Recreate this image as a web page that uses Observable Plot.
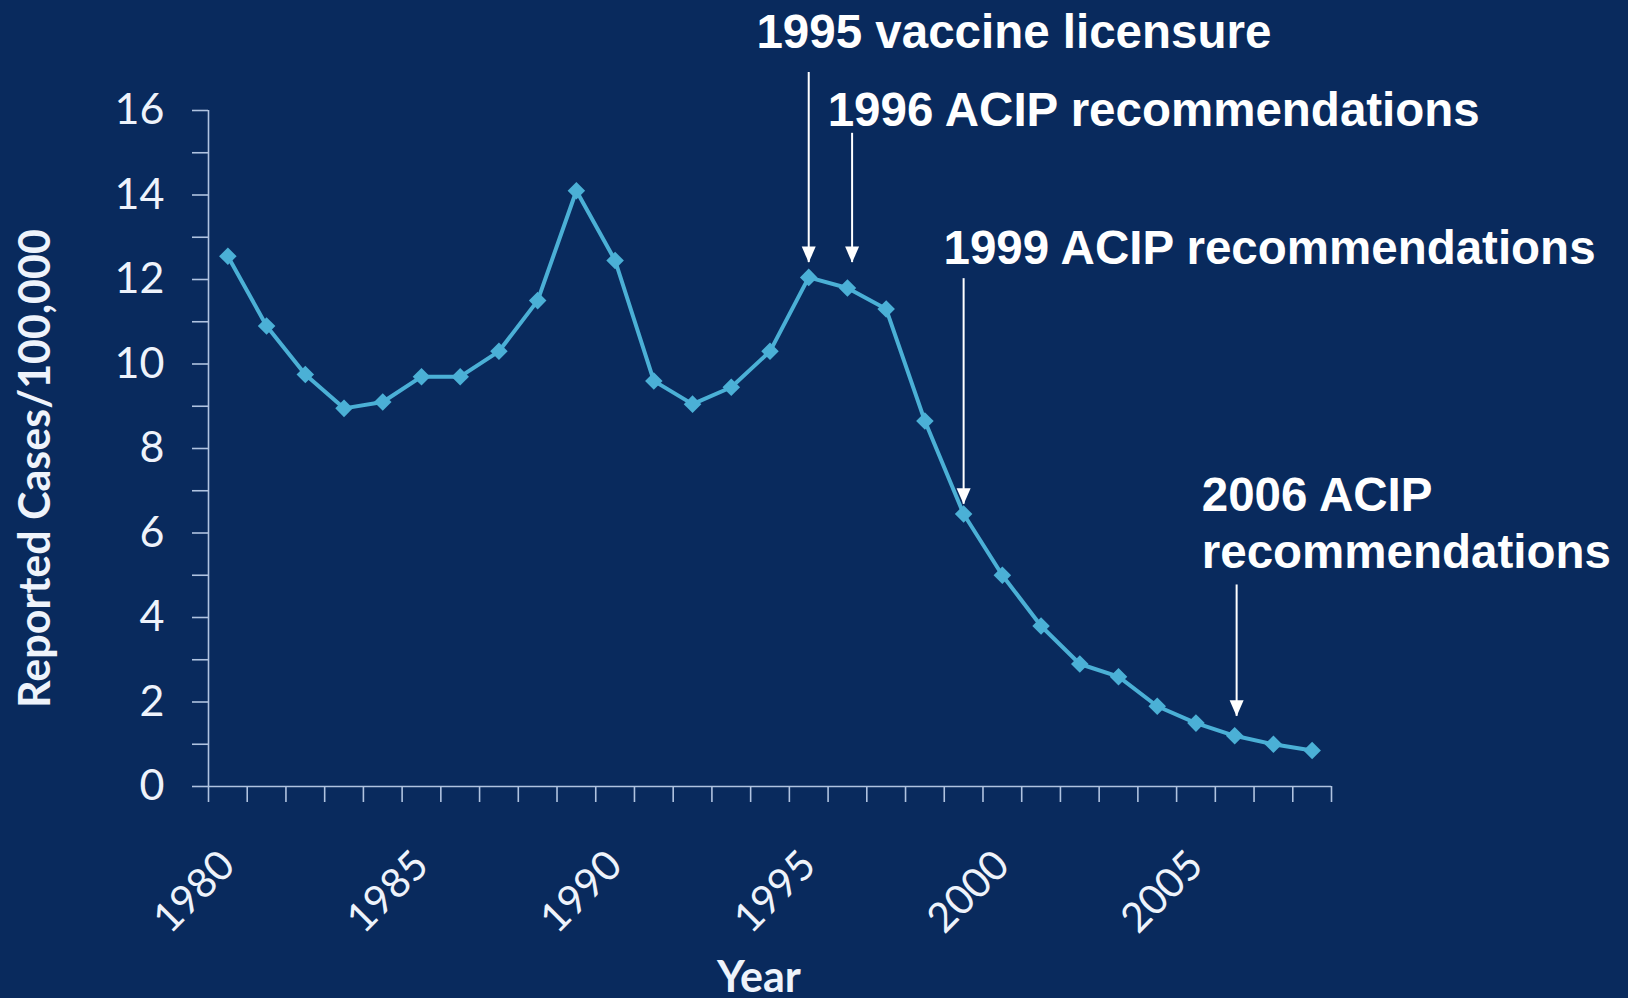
<!DOCTYPE html>
<html><head><meta charset="utf-8">
<script src="https://cdn.jsdelivr.net/npm/d3@7"></script>
<script src="https://cdn.jsdelivr.net/npm/@observablehq/plot@0.6"></script>
<style>html,body{margin:0;padding:0;background:#082b5f;overflow:hidden}</style>
</head><body><div id="chart"></div>
<script>
// ---- data ----
const years = [1980,1981,1982,1983,1984,1985,1986,1987,1988,1989,1990,1991,1992,1993,1994,1995,1996,1997,1998,1999,2000,2001,2002,2003,2004,2005,2006,2007,2008];
const cases = [12.55,10.9,9.75,8.95,9.1,9.7,9.7,10.3,11.5,14.1,12.45,9.6,9.05,9.45,10.3,12.05,11.8,11.3,8.65,6.45,5.0,3.8,2.9,2.6,1.9,1.5,1.2,1.0,0.85];
const labelYears = [1980,1985,1990,1995,2000,2005];
const yTicks = [0,2,4,6,8,10,12,14,16];
const yMinorTicks = [1,3,5,7,9,11,13,15];
const yTitle = "Reported Cases/100,000";
const xTitle = "Year";
// annotations
const noteTexts = ["1995 vaccine licensure","1996 ACIP recommendations","1999 ACIP recommendations","2006 ACIP\nrecommendations"];
const noteX = [1993.65,1995.49,1998.48,2005.15];
const noteY = [17.9,16.06,12.8,6.27];
const arrowX = [1995,1996.12,1999,2006.05];
const arrowTop = [16.9,15.46,12.02,4.77];
const arrowTip = [12.4,12.4,6.68,1.66];

// ---- build tables ----
const series = years.map((y,i)=>({year:y, value:cases[i]}));
const edges = years.map(y=>y-0.5).concat([years[years.length-1]+0.5]);
const notes = noteTexts.map((t,i)=>({text:t, x:noteX[i], y:noteY[i]}));
const arrows = arrowX.map((x,i)=>({x, top:arrowTop[i], tip:arrowTip[i]}));

const bg = "#092a5d";
const axisColor = "#b0c3e0";
const labelColor = "#eef3fb";
const lineColor = "#4bb0d6";
const arrowHead = {draw(ctx){ctx.moveTo(0,0);ctx.lineTo(-7,-16);ctx.lineTo(7,-16);ctx.closePath();}};

const chart = Plot.plot({
  width: 1628, height: 998,
  marginLeft: 208, marginRight: 297, marginTop: 110, marginBottom: 212,
  style: {background: bg, fontFamily: "Lato, 'Open Sans', sans-serif", color: labelColor},
  x: {type: "linear", domain: [edges[0], edges[edges.length-1]]},
  y: {domain: [0,16]},
  marks: [
    Plot.ruleY([0], {stroke: axisColor, strokeWidth: 1.6}),
    Plot.ruleX([edges[0]], {stroke: axisColor, strokeWidth: 1.6}),
    Plot.axisY({ticks: yTicks, tickSize: 16, tickPadding: 28, stroke: axisColor, strokeWidth: 1.6, fill: labelColor, fontSize: 43, label: null}),
    Plot.axisY({ticks: yMinorTicks, tickSize: 16, stroke: axisColor, strokeWidth: 1.6, fill: "none", label: null}),
    Plot.axisX({ticks: edges, tickSize: 16, stroke: axisColor, strokeWidth: 1.6, fill: "none", label: null}),
    Plot.text(labelYears, {x: d=>d, text: d=>String(d), frameAnchor: "bottom", rotate: -45, textAnchor: "end", lineAnchor: "middle", dy: 72, dx: 0, fontSize: 41, fill: labelColor}),
    Plot.text([yTitle], {text: d=>d, frameAnchor: "left", rotate: -90, dx: -172, dy: 20, fontSize: 43, fontWeight: "bold", fill: labelColor, textAnchor: "middle", lineAnchor: "middle"}),
    Plot.text([xTitle], {text: d=>d, frameAnchor: "bottom", dx: -11, dy: 192, fontSize: 43, fontWeight: "bold", fill: labelColor, textAnchor: "middle", lineAnchor: "middle"}),
    Plot.line(series, {x: "year", y: "value", stroke: lineColor, strokeWidth: 4}),
    Plot.dot(series, {x: "year", y: "value", symbol: "square", rotate: 45, r: 7, fill: lineColor, stroke: "none"}),
    Plot.ruleX(arrows, {x: "x", y1: "top", y2: "tip", stroke: "white", strokeWidth: 2}),
    Plot.dot(arrows, {x: "x", y: "tip", symbol: arrowHead, r: 1, fill: "white", stroke: "none"}),
    Plot.text(notes, {x: "x", y: "y", text: "text", textAnchor: "start", lineAnchor: "middle", lineHeight: 1.2, fontSize: 47.5, fontWeight: "bold", fontFamily: "'Liberation Sans', Arial, sans-serif", fill: "white"})
  ]
});
document.getElementById("chart").appendChild(chart);
</script>
</body></html>
